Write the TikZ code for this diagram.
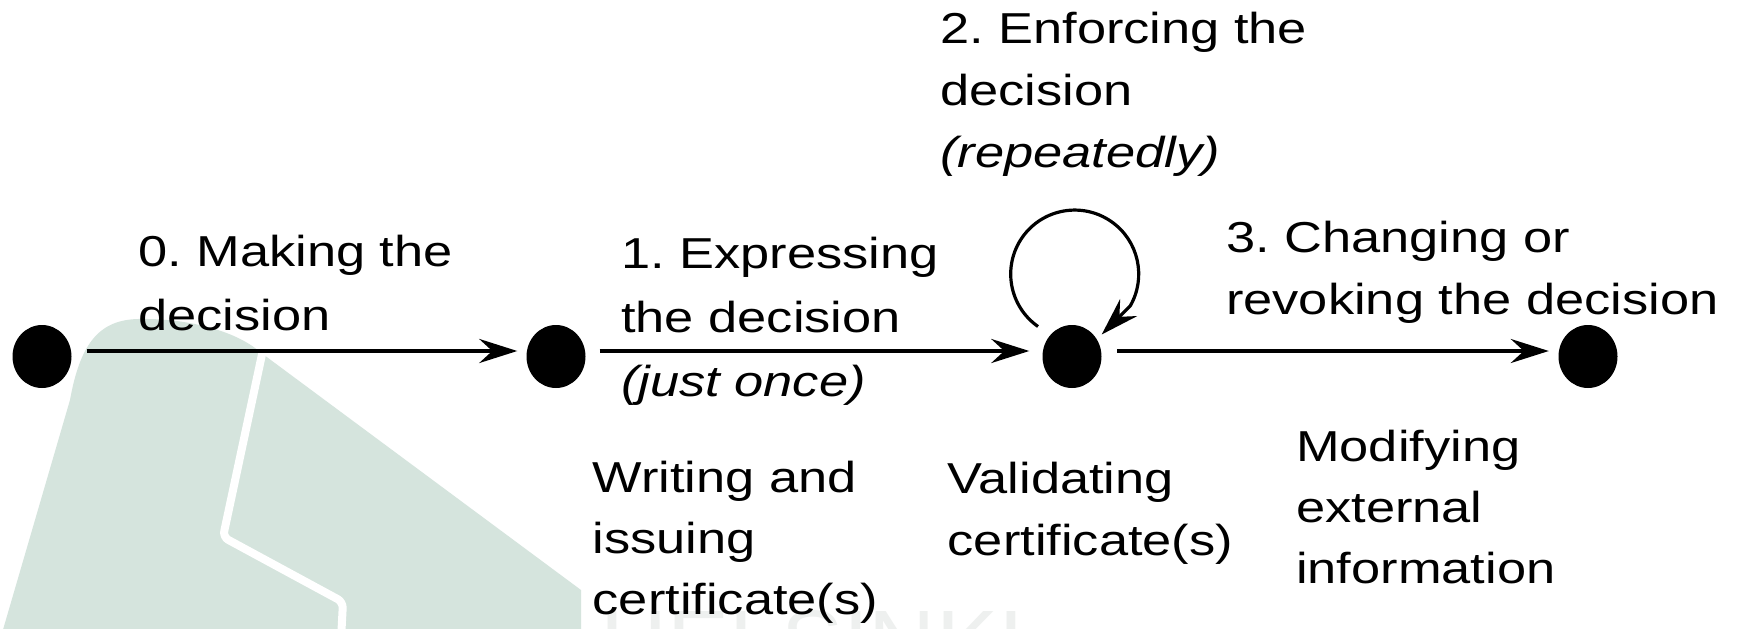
\documentclass[tikz,border=0pt]{standalone}
\usepackage{fontspec}
\setmainfont{Liberation Sans}
\usepackage{graphicx}
\usetikzlibrary{arrows.meta,shapes.geometric}
\frenchspacing

\definecolor{wmgreen}{RGB}{213,228,221}
\definecolor{wmgray}{RGB}{238,240,239}
% text in this figure is set slightly wide
\newcommand\wline[1]{\scalebox{1.21}[1]{#1}}

\begin{document}
\begin{tikzpicture}[x=1pt,y=-1pt,
  state/.style={ellipse, fill=black, inner sep=0pt,
                minimum width=59pt, minimum height=63pt},
  tip/.style={-{Stealth[length=38pt,width=24pt,inset=13pt]}},
  flow/.style={tip, line width=4pt},
  loopflow/.style={tip, line width=3.2pt},
  % anchored at the baseline of the last line
  lbl/.style={anchor=base west, inner sep=0pt, align=left,
              font=\fontsize{43.3}{#1}\selectfont},
  lbl/.default=62,
]
\useasboundingbox (0,0) rectangle (1741,629);
\fill[white] (0,0) rectangle (1741,629);

% faint emblem in the background
\begin{scope}
  \clip (0,0) rectangle (1741,629);
  \fill[wmgreen] (0,640) -- (70,400)
     .. controls (80,345) and (98,320) .. (138,319)
     .. controls (185,318) and (235,330) .. (260,352)
     -- (581,590) -- (581,640) -- cycle;
  \draw[white, line width=8pt, line join=round, rounded corners=6pt]
     (264,345) -- (223,537) -- (343,602) -- (341,640);
  \node[anchor=base west, inner sep=0pt, text=wmgray,
        font=\fontsize{93}{93}\selectfont] (wmtext) at (600,675) {HELSINKI};
\end{scope}

% states
\node[state] (n0) at (42,356.5) {};
\node[state] (n1) at (556,356.5) {};
\node[state] (n2) at (1072,356.5) {};
\node[state] (n3) at (1588,356.5) {};

% transitions
\draw[flow, shorten <=15pt, shorten >=9pt]
  ([yshift=5.5pt]n0.east) -- ([yshift=5.5pt]n1.west);
\draw[flow, shorten <=14pt, shorten >=13pt]
  ([yshift=5.5pt]n1.east) -- ([yshift=5.5pt]n2.west);
\draw[flow, shorten <=15.5pt, shorten >=9.5pt]
  ([yshift=5.5pt]n2.east) -- ([yshift=5.5pt]n3.west);
\draw[loopflow] ([shift={(-34,-30)}]n2.center)
  arc[start angle=235, end angle=-30, radius=64pt]
  -- ([shift={(29.7,-22)}]n2.center);

% labels
\node[lbl=64] (t0) at (138,330) {\wline{0. Making the}\\\wline{decision}};
\node[lbl=64] (t1) at (621,396) {\wline{1. Expressing}\\\wline{the decision}\\\wline{\itshape(just once)}};
\node[lbl=62] (t2) at (940,167) {\wline{2. Enforcing the}\\\wline{decision}\\\wline{\itshape(repeatedly)}};
\node[lbl=62] (t3) at (1226,314) {\wline{3. Changing or}\\\wline{revoking the decision}};
\node[lbl=61] (b1) at (592.5,614) {\wline{Writing and}\\\wline{issuing}\\\wline{certificate(s)}};
\node[lbl=62] (b2) at (947.5,555) {\wline{Validating}\\\wline{certificate(s)}};
\node[lbl=61] (b3) at (1296,583) {\wline{Modifying}\\\wline{external}\\\wline{information}};
\end{tikzpicture}
\end{document}
